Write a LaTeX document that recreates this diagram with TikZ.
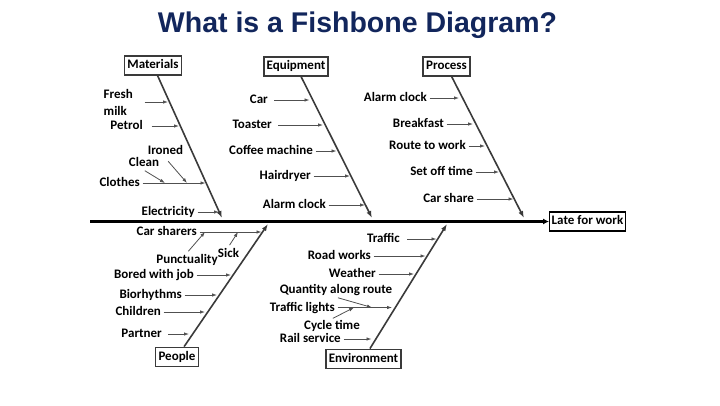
\documentclass[tikz,border=0pt]{standalone}
\usepackage{fontspec}
\setmainfont{Carlito}
\newfontfamily\titlefont{Liberation Sans}
\usetikzlibrary{arrows.meta}
\definecolor{titleblue}{RGB}{18,38,92}
\definecolor{bonegray}{RGB}{58,58,58}
\definecolor{subgray}{RGB}{80,80,80}

\begin{document}
\begin{tikzpicture}[x=1pt,y=-1pt,
    cat/.style={draw=bonegray, line width=1.8pt, font=\bfseries\fontsize{13}{15}\selectfont, inner xsep=3pt, minimum height=19pt, text height=9pt, text depth=2.5pt},
    txt/.style={font=\bfseries\fontsize{13}{17}\selectfont, inner xsep=2.5pt, inner ysep=1pt},
    lbl/.style={txt, text height=9.5pt, text depth=2.5pt},
    bone/.style={draw=bonegray, line width=1.6pt, -{Latex[length=7pt,width=5pt]}},
    sub/.style={draw=subgray, line width=0.8pt, -{Latex[length=5pt,width=3.5pt]}},
    spine/.style={draw=black, line width=2.4pt, -{Latex[length=6pt,width=6pt]}}]

    \useasboundingbox (0,0) rectangle (720,405);

    \node[font=\titlefont\bfseries\fontsize{28.5}{30}\selectfont, text=titleblue, anchor=base] (title) at (357.5,32) {What is a Fishbone Diagram?};

    % head and spine
    \node[cat, draw=black, line width=1.4pt, inner xsep=2pt] (late) at (587.5,221.5) {Late for work};
    \coordinate (tail) at (90,221.5);
    \draw[spine] (tail) -- (late);

    % categories
    \node[cat] (mat) at (153,65.5) {Materials};
    \node[cat] (equ) at (296,66.5) {Equipment};
    \node[cat] (pro) at (446.5,66.5) {Process};
    \node[cat] (peo) at (177,357) {People};
    \node[cat] (env) at (363.5,359) {Environment};

    \coordinate (mhead) at (222,218);
    \coordinate (ehead) at (372,218);
    \coordinate (phead) at (524,218);
    \coordinate (pehead) at (268,224);
    \coordinate (enhead) at (447,224);

    \draw[bone] (mat) -- (mhead);
    \draw[bone] (equ) -- (ehead);
    \draw[bone] (pro) -- (phead);
    \draw[bone] (peo) -- (pehead);
    \draw[bone] (env) -- (enhead);

    % Materials
    \coordinate (m1) at (168,102);
    \coordinate (m2) at (179,126);
    \coordinate (m3) at (205.5,183);
    \coordinate (m4) at (219,212);
    \coordinate (c1) at (165,183);
    \coordinate (c2) at (187,183);
    \node[txt, anchor=west, align=left] (fresh) at (101,102) {Fresh\\milk};
    \node[lbl, anchor=east] (pet) at (145.5,126) {Petrol};
    \node[lbl, anchor=east] (clo) at (142.5,183) {Clothes};
    \node[lbl] (cle) at (144,163) {Clean};
    \node[lbl] (iro) at (165.5,151) {Ironed};
    \node[lbl, anchor=east] (ele) at (197.5,212) {Electricity};
    \draw[sub] ([xshift=9pt]fresh.east) -- (m1);
    \draw[sub, shorten <=6pt] (pet) -- (m2);
    \draw[sub] (clo) -- (m3);
    \draw[sub, shorten <=1pt] (cle.south) -- (c1);
    \draw[sub, shorten <=4pt] (iro.south) -- (c2);
    \draw[sub] (ele) -- (m4);

    % Equipment
    \coordinate (e1) at (309.5,100);
    \coordinate (e2) at (323,125);
    \coordinate (e3) at (336.5,151);
    \coordinate (e4) at (350,176);
    \coordinate (e5) at (365,205);
    \node[lbl, anchor=east] (car) at (270.5,100) {Car};
    \node[lbl, anchor=east] (toa) at (274.5,125) {Toaster};
    \node[lbl, anchor=east] (cof) at (315.5,151) {Coffee machine};
    \node[lbl, anchor=east] (hai) at (313.5,176) {Hairdryer};
    \node[lbl, anchor=east] (ala) at (328.5,205) {Alarm clock};
    \draw[sub, shorten <=3.5pt] (car) -- (e1);
    \draw[sub, shorten <=3.5pt] (toa) -- (e2);
    \draw[sub] (cof) -- (e3);
    \draw[sub] (hai) -- (e4);
    \draw[sub] (ala) -- (e5);

    % Process
    \coordinate (p1) at (459,98);
    \coordinate (p2) at (473,124);
    \coordinate (p3) at (485,146);
    \coordinate (p4) at (499,172);
    \coordinate (p5) at (513.5,199);
    \node[lbl, anchor=east] (alc) at (429.5,98) {Alarm clock};
    \node[lbl, anchor=east] (bre) at (446.5,124) {Breakfast};
    \node[lbl, anchor=east] (rou) at (468.5,146) {Route to work};
    \node[lbl, anchor=east] (set) at (475.5,172) {Set off time};
    \node[lbl, anchor=east] (csh) at (476.5,199) {Car share};
    \draw[sub] (alc) -- (p1);
    \draw[sub] (bre) -- (p2);
    \draw[sub] (rou) -- (p3);
    \draw[sub] (set) -- (p4);
    \draw[sub] (csh) -- (p5);

    % People
    \coordinate (q1) at (261.5,232);
    \coordinate (s1) at (205,232);
    \coordinate (s2) at (238,232);
    \coordinate (q2) at (231,275);
    \coordinate (q3) at (217,295);
    \coordinate (q4) at (205,312);
    \coordinate (q5) at (189,334);
    \node[lbl, anchor=east] (crs) at (199.5,232) {Car sharers};
    \node[lbl] (pun) at (187,260) {Punctuality};
    \node[lbl] (sic) at (228.5,254) {Sick};
    \node[lbl, anchor=east] (bor) at (196.5,275) {Bored with job};
    \node[lbl, anchor=east] (bio) at (184.5,295) {Biorhythms};
    \node[lbl, anchor=east] (chi) at (163.5,312) {Children};
    \node[lbl, anchor=east] (par) at (164.5,334) {Partner};
    \draw[sub] (crs) -- (q1);
    \draw[sub, shorten <=2pt] (pun.north) -- (s1);
    \draw[sub, shorten <=2pt] (sic.north) -- (s2);
    \draw[sub] (bor) -- (q2);
    \draw[sub] (bio) -- (q3);
    \draw[sub] (chi) -- (q4);
    \draw[sub, shorten <=3.5pt] (par) -- (q5);

    % Environment
    \coordinate (n1) at (436.5,239);
    \coordinate (n2) at (425.5,256);
    \coordinate (n3) at (414,274);
    \coordinate (n4) at (392,307.5);
    \coordinate (n5) at (371.5,339);
    \coordinate (t1) at (372,307.5);
    \coordinate (t2) at (354,307.5);
    \node[lbl, anchor=east] (tra) at (402.5,239) {Traffic};
    \node[lbl, anchor=east] (roa) at (373.5,256) {Road works};
    \node[lbl, anchor=east] (wea) at (378.5,274) {Weather};
    \node[lbl] (qty) at (336,290) {Quantity along route};
    \node[lbl, anchor=east] (tli) at (337.5,307.5) {Traffic lights};
    \node[lbl] (cyc) at (332,326) {Cycle time};
    \node[lbl, anchor=east] (rai) at (343.5,339) {Rail service};
    \draw[sub, shorten <=4.5pt] (tra) -- (n1);
    \draw[sub] (roa) -- (n2);
    \draw[sub] (wea) -- (n3);
    \draw[sub] (tli) -- (n4);
    \draw[sub, shorten <=2pt] (qty.south) -- (t1);
    \draw[sub, shorten <=1pt] (cyc.north) -- (t2);
    \draw[sub] (rai) -- (n5);
\end{tikzpicture}
\end{document}
